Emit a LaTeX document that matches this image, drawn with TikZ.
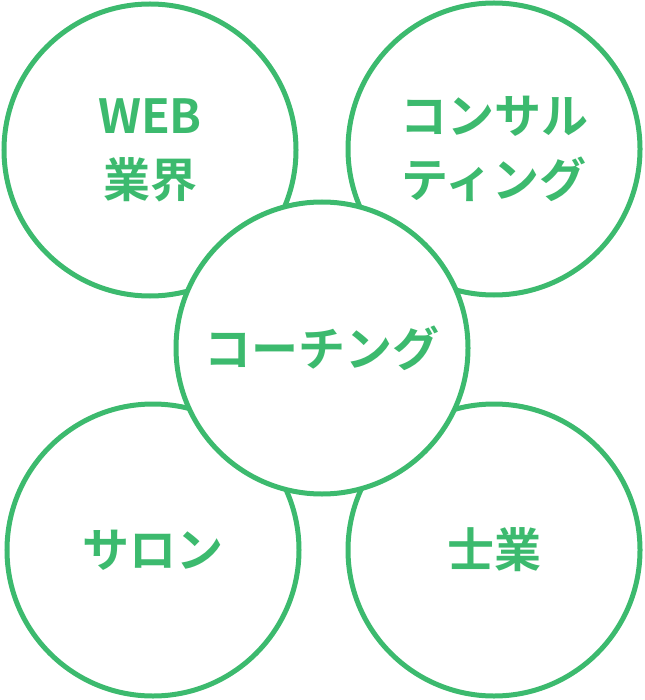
\documentclass[tikz,border=0pt]{standalone}
\usepackage{fontspec}
\newfontfamily\jpfont{Noto Sans CJK JP}[BoldFont={Noto Sans CJK JP Bold}]
\usetikzlibrary{positioning}
\definecolor{leafgreen}{RGB}{60,186,110}

\begin{document}
\begin{tikzpicture}[x=1pt,y=-1pt]
    \tikzstyle{field}=[circle, draw=leafgreen, line width=5pt, fill=white, minimum size=292pt, inner sep=0pt, text=leafgreen, align=center, font=\jpfont\bfseries\fontsize{47}{64}\selectfont]
    \useasboundingbox (0,0) rectangle (644,700);

    \node (Web) [field] at (150,150) {WEB\\業界};
    \node (Consult) [field] at (494,149) {コンサル\\ティング};
    \node (Salon) [field] at (153,550) {サロン};
    \node (Shigyo) [field] at (494,550) {士業};
    % the middle one sits on top of the other four
    \node (Coaching) [field] at (322,348) {コーチング};

\end{tikzpicture}
\end{document}
